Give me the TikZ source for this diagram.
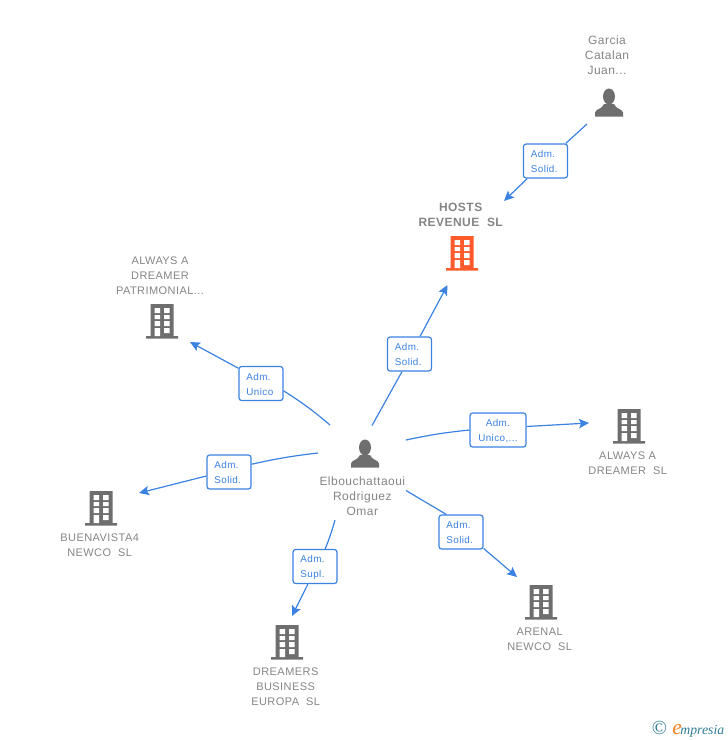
\documentclass[tikz,border=0pt]{standalone}
\usepackage{xcolor}
\usepackage{fontspec}
\setmainfont{Liberation Sans}[LetterSpace=4]
\newfontfamily\logofont{Liberation Serif}
\usetikzlibrary{arrows.meta}

\definecolor{linkblue}{HTML}{3B82E2}
\definecolor{labelgray}{HTML}{858585}
\definecolor{icongray}{HTML}{6E6E6E}
\definecolor{hostsorange}{HTML}{FF5A2B}
\definecolor{logoteal}{HTML}{2F7C94}
\definecolor{logoorange}{HTML}{F58220}

\tikzset{
    building/.style={minimum size=27pt, inner sep=0pt, path picture={
        \fill[#1] (-11.5,-17) rectangle (11.5,15) (-16,15) rectangle (16,17.5);
        \fill[white] (-7.5,-13) rectangle (-2,-8) (2,-13) rectangle (7.5,-8)
            (-7.5,-6) rectangle (-2,-2) (2,-6) rectangle (7.5,-2)
            (-7.5,0) rectangle (-2,5) (2,0) rectangle (7.5,5)
            (-7.5,7) rectangle (-2,15) (2,7) rectangle (7.5,12);
    }},
    person/.style={minimum size=24pt, inner sep=0pt, path picture={
        \fill[icongray] (0,-6.5) ellipse (6 and 8);
        \fill[icongray] (-14,13.5) -- (-14,9.5) .. controls (-13,5.5) and (-7,6.5) .. (-5,1)
            -- (5,1) .. controls (7,6.5) and (13,5.5) .. (14,9.5) -- (14,13.5) -- cycle;
    }},
    caption/.style={font=\fontsize{9}{11.25}\selectfont, text=labelgray, align=center, inner sep=0pt},
    company/.style={caption, font=\fontsize{8.25}{11.25}\selectfont},
    relbox/.style={draw=linkblue, fill=white, line width=0.9pt, rounded corners=2pt, inner xsep=5.6pt, inner ysep=0pt,
        minimum height=25.5pt, text width=21.8pt, align=left, text=linkblue, text height=6.8pt,
        font=\fontsize{7.4}{11.25}\selectfont},
    link/.style={draw=linkblue, line width=0.9pt},
    linktip/.style={link, -{Stealth[length=7.5pt, width=7pt, inset=1.5pt]}}
}

\begin{document}
\begin{tikzpicture}[x=0.75pt, y=-0.75pt]
    \useasboundingbox (0,0) rectangle (728,740);

    % NODES
    % people
    \node[person] (garcia) at (609,103) {};
    \node[person] (omar) at (365,454) {};

    % companies
    \node[building=hostsorange] (hosts) at (462,253) {};
    \node[building=icongray] (patrimonial) at (162,321) {};
    \node[building=icongray] (always) at (629,426) {};
    \node[building=icongray] (buenavista) at (101,508) {};
    \node[building=icongray] (dreamers) at (287,642) {};
    \node[building=icongray] (arenal) at (541,602) {};

    % captions
    \node[caption, above of = garcia, node distance = 36pt, xshift=-1.5pt] (garcia_cap) {Garcia\\Catalan\\Juan...};
    \node[caption, above of = hosts, node distance = 28.6pt, xshift=-1pt, font=\fontsize{9}{11.25}\selectfont\bfseries] (hosts_cap) {HOSTS\\REVENUE\ \ SL};
    \node[company, above of = patrimonial, node distance = 33.8pt, xshift=-1.5pt] (patrimonial_cap) {ALWAYS A\\DREAMER\\PATRIMONIAL...};
    \node[company, below of = always, node distance = 28.1pt, xshift=-1pt] (always_cap) {ALWAYS A\\DREAMER\ \ SL};
    \node[company, below of = buenavista, node distance = 28.1pt, xshift=-1pt] (buenavista_cap) {BUENAVISTA4\\NEWCO\ \ SL};
    \node[company, below of = dreamers, node distance = 33.7pt, xshift=-1pt] (dreamers_cap) {DREAMERS\\BUSINESS\\EUROPA\ \ SL};
    \node[company, below of = arenal, node distance = 28.1pt, xshift=-1pt] (arenal_cap) {ARENAL\\NEWCO\ \ SL};
    \node[caption, below of = omar, node distance = 31.5pt, xshift=-2pt] (omar_cap) {Elbouchattaoui\\Rodriguez\\Omar};

    % relation boxes
    \node[relbox] (hosts_box) at (545.5,161) {Adm.\\Solid.};
    \node[relbox] (omarhosts_box) at (409.5,354) {Adm.\\Solid.};
    \node[relbox] (patrimonial_box) at (261,383.5) {Adm.\\Unico};
    \node[relbox, text width=30.8pt, align=center] (always_box) at (498,430) {Adm.\\Unico,...};
    \node[relbox] (buenavista_box) at (229,472) {Adm.\\Solid.};
    \node[relbox] (dreamers_box) at (315,566.5) {Adm.\\Supl.};
    \node[relbox] (arenal_box) at (461,532) {Adm.\\Solid.};

    % line ends
    \coordinate (garcia_out) at (587,124);
    \coordinate (hosts_tip) at (504,201);
    \coordinate (omarhosts_out) at (372,425.5);
    \coordinate (omarhosts_tip) at (447.5,285);
    \coordinate (patrimonial_out) at (330,425);
    \coordinate (patrimonial_tip) at (190,342);
    \coordinate (always_out) at (406,440);
    \coordinate (always_tip) at (589,423);
    \coordinate (buenavista_out) at (318,453);
    \coordinate (buenavista_tip) at (139,493);
    \coordinate (dreamers_out) at (335,520);
    \coordinate (dreamers_tip) at (292,616);
    \coordinate (arenal_out) at (406,490.5);
    \coordinate (arenal_tip) at (517,577);

    % logo
    \node[inner sep=0pt, text=logoteal, font=\logofont\fontsize{10.3}{11}\selectfont] (logo) at (688,729)
        {{\fontsize{15}{15}\selectfont\textcopyright}\hspace{4pt}{\fontsize{16}{16}\selectfont\itshape\textcolor{logoorange}{e}}\kern-1pt{\itshape mpresia}};

    % ARROWS
    \draw[link] (garcia_out)--(hosts_box.41);
    \draw[linktip] (hosts_box.224)--(hosts_tip);
    \draw[link] (omarhosts_out)--(omarhosts_box.247);
    \draw[linktip] (omarhosts_box.59)--(omarhosts_tip);
    \draw[link] (patrimonial_out) to[bend right=4] (patrimonial_box.-18);
    \draw[linktip] (patrimonial_box.146)--(patrimonial_tip);
    \draw[link] (always_out) to[bend left=3] (always_box.west);
    \draw[linktip] (always_box.7)--(always_tip);
    \draw[link] (buenavista_out) to[bend right=3] (buenavista_box.19);
    \draw[linktip] (buenavista_box.190)--(buenavista_tip);
    \draw[link] (dreamers_out) to[bend left=3] (dreamers_box.60);
    \draw[linktip] (dreamers_box.248)--(dreamers_tip);
    \draw[link] (arenal_out)--(arenal_box.130);
    \draw[linktip] (arenal_box.-36)--(arenal_tip);
\end{tikzpicture}
\end{document}
